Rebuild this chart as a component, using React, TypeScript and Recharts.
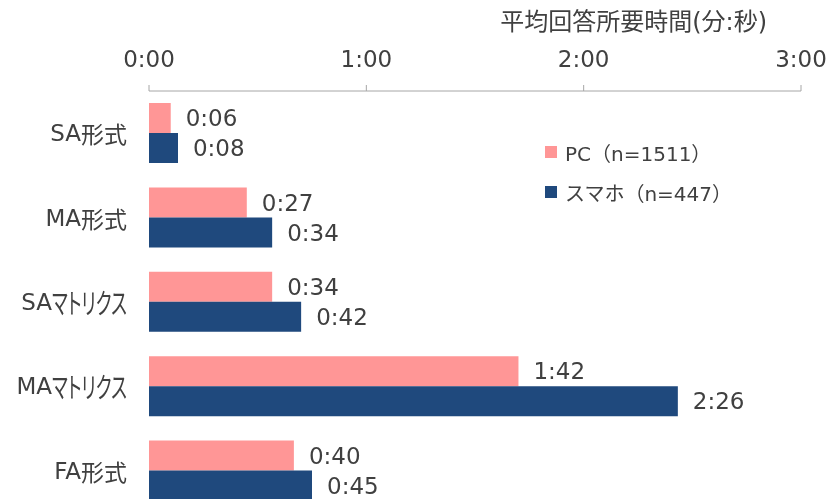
import React from 'react';
import { BarChart, Bar, XAxis, YAxis, LabelList, Legend } from 'recharts';

const categories = ['SA形式', 'MA形式', 'SAマトリクス', 'MAマトリクス', 'FA形式'];
const pcSeconds = [6, 27, 34, 102, 40];
const spSeconds = [8, 34, 42, 146, 45];
const xTicks = [0, 60, 120, 180];
const seriesNames = ['PC（n=1511）', 'スマホ（n=447）'];
const seriesColors = ['#FF9696', '#1F497D'];
const axisTitle = '平均回答所要時間(分:秒)';

const data = categories.map((c, i) => ({ name: c, pc: pcSeconds[i], sp: spSeconds[i] }));

const fmt = (v: any) => {
  const n = Number(v);
  const m = Math.floor(n / 60);
  const s = n % 60;
  return `${m}:${s < 10 ? '0' : ''}${s}`;
};

const FONT = '"DejaVu Sans", "Noto Sans CJK JP", sans-serif';
const CJK = '"Noto Sans CJK JP", sans-serif';
const TEXT = '#404040';

const AxisTitle = (props: any) => {
  const vb = props.viewBox || { x: 0, y: 0, width: 0, height: 0 };
  return (
    <text
      x={vb.x + vb.width - 34}
      y={22}
      textAnchor="end"
      dominantBaseline="central"
      fill={TEXT}
      fontSize={24}
      fontFamily={FONT}
    >
      {axisTitle}
    </text>
  );
};

const LegendContent = () => (
  <div style={{ fontFamily: FONT, fontSize: 20, color: TEXT }}>
    {seriesNames.map((n, i) => (
      <div key={n} style={{ display: 'flex', alignItems: 'center', height: 40 }}>
        <span style={{ display: 'inline-block', width: 12, height: 12, background: seriesColors[i], marginRight: 8 }} />
        <span style={{ whiteSpace: 'nowrap' }}>{n}</span>
      </div>
    ))}
  </div>
);

const YTick = (props: any) => {
  const { x, y, payload } = props;
  const label: string = String(payload.value);
  const parts = label.match(/[A-Za-z]+|[\u30A0-\u30FF]+|[^A-Za-z\u30A0-\u30FF]+/g) || [label];
  return (
    <text x={x} y={y} textAnchor="end" dominantBaseline="central" fill={TEXT}>
      {parts.map((p, i) => {
        if (/^[A-Za-z]+$/.test(p)) {
          return (
            <tspan key={i} fontFamily={'"DejaVu Sans", sans-serif'} fontSize={23}>
              {p}
            </tspan>
          );
        }
        if (/^[\u30A0-\u30FF]+$/.test(p)) {
          return (
            <tspan
              key={i}
              fontFamily={CJK}
              fontSize={28}
              textLength={p.length * 15}
              lengthAdjust="spacingAndGlyphs"
              style={{ fontFeatureSettings: '"palt"' }}
            >
              {p}
            </tspan>
          );
        }
        return (
          <tspan key={i} fontFamily={CJK} fontSize={23}>
            {p}
          </tspan>
        );
      })}
    </text>
  );
};

export default function App() {
  return (
    <div style={{ position: 'fixed', left: 0, top: 0, width: 831, height: 499, overflow: 'hidden' }}>
      <BarChart
        width={831}
        height={518}
        data={data}
        layout="vertical"
        margin={{ top: 0, right: 30, bottom: 5, left: 0 }}
        barCategoryGap={12}
        barGap={0}
      >
        <XAxis
          type="number"
          orientation="top"
          domain={[0, 180]}
          ticks={xTicks}
          tickFormatter={fmt}
          height={91}
          stroke="#A6A6A6"
          tickSize={6}
          tickMargin={18}
          tick={{ fill: TEXT, fontSize: 23, fontFamily: FONT }}
          label={<AxisTitle />}
          interval={0}
        />
        <YAxis
          type="category"
          dataKey="name"
          width={149}
          axisLine={false}
          tickLine={false}
          tickSize={0}
          tickMargin={22}
          tick={<YTick />}
          interval={0}
        />
        <Legend
          layout="vertical"
          align="center"
          verticalAlign="middle"
          content={<LegendContent />}
          wrapperStyle={{ position: 'absolute', top: 132, left: 545, width: 'auto', height: 'auto' }}
        />
        <Bar dataKey="pc" name={seriesNames[0]} fill={seriesColors[0]} isAnimationActive={false}>
          <LabelList dataKey="pc" position="right" offset={15} formatter={fmt} fill={TEXT} fontSize={23} fontFamily={FONT} />
        </Bar>
        <Bar dataKey="sp" name={seriesNames[1]} fill={seriesColors[1]} isAnimationActive={false}>
          <LabelList dataKey="sp" position="right" offset={15} formatter={fmt} fill={TEXT} fontSize={23} fontFamily={FONT} />
        </Bar>
      </BarChart>
    </div>
  );
}
